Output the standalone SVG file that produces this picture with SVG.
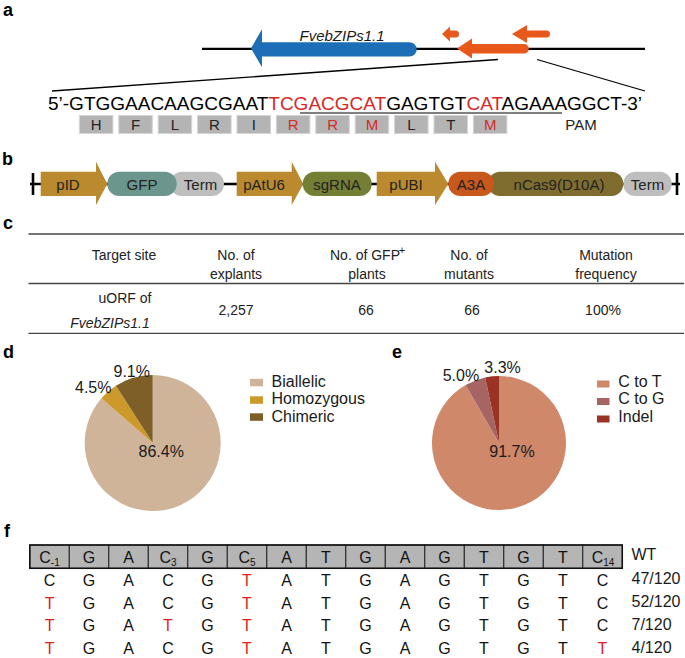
<svg xmlns="http://www.w3.org/2000/svg" width="685" height="658" viewBox="0 0 685 658">
<style>
text{font-family:'Liberation Sans',Arial,sans-serif;fill:#1a1a1a}
.lbl{font-size:18px;font-weight:bold;fill:#000}
.seq{font-size:19px;fill:#000}
.aa{font-size:15px;text-anchor:middle;fill:#222}
.red{fill:#d42a2a}
.aabox{fill:#b4b4b4;stroke:#d4d4d4;stroke-width:1}
.cb{font-size:15px;text-anchor:middle;fill:#222}
.tb{font-size:14px;text-anchor:middle;fill:#222}
.pct{font-size:16px;fill:#1a1a1a}
.leg{font-size:16px;fill:#1a1a1a}
.fc{font-size:16px;text-anchor:middle;fill:#111}
.fr{fill:#e0201b}
.sub{font-size:10px}
.cell{fill:#b5b5b5;stroke:#222;stroke-width:1}
</style>

<!-- panel labels -->
<text class="lbl" x="3" y="16">a</text>
<text class="lbl" x="2" y="165">b</text>
<text class="lbl" x="3" y="229">c</text>
<text class="lbl" x="3" y="358">d</text>
<text class="lbl" x="392" y="358">e</text>
<text class="lbl" x="4" y="537">f</text>

<!-- connectors -->
<g id="connectors" stroke="#000" fill="none">
  <line x1="202" y1="48.8" x2="645" y2="48.8" stroke-width="2.2"/>
  <line x1="498" y1="59.5" x2="52" y2="91" stroke-width="1.3"/>
  <line x1="537" y1="59.5" x2="645" y2="91" stroke-width="1.3"/>
  <line x1="300" y1="113" x2="562" y2="113" stroke="#555" stroke-width="1.6"/>
  <line x1="30" y1="184" x2="680" y2="184" stroke-width="2.6"/>
  <line x1="33" y1="173" x2="33" y2="195" stroke-width="2.6"/>
  <line x1="677" y1="173" x2="677" y2="195" stroke-width="2.6"/>
</g>

<!-- panel a -->
<g id="gene">
  <path d="M251,48.3 L262,29.3 L262,42.2 L409.5,42.2 A7.2,7.2 0 0 1 409.5,56.6 L262,56.6 L262,67.3 Z" fill="#1c6fb7"/>
  <text x="342" y="40.5" font-size="15" font-style="italic" text-anchor="middle" fill="#1a1a1a">FvebZIPs1.1</text>
</g>
<g id="orf-small">
  <path d="M442,34 L450,26.5 L450,30.5 L455.5,30.5 A3.5,3.5 0 0 1 455.5,37.5 L450,37.5 L450,41.5 Z" fill="#e8581b"/>
</g>
<g id="orf-top">
  <path d="M512,34 L527,25 L527,30.5 L546.5,30.5 A3.5,3.5 0 0 1 546.5,37.5 L527,37.5 L527,43 Z" fill="#e8581b"/>
</g>
<g id="orf-main">
  <path d="M457,48.5 L472,38.5 L472,44 L524,44 A4.8,4.8 0 0 1 524,53.6 L472,53.6 L472,58.5 Z" fill="#e8581b"/>
</g>
<g id="sequence">
  <text class="seq" x="48" y="110">5’-GTGGAACAAGCGAAT<tspan class="red">TCGACGCAT</tspan>GAGTGT<tspan class="red">CAT</tspan>AGAAAGGCT-3’</text>
</g>
<g id="codons">
  <rect class="aabox" x="79.4" y="115.5" width="33.5" height="18"/>
  <rect class="aabox" x="118.8" y="115.5" width="33.5" height="18"/>
  <rect class="aabox" x="158.2" y="115.5" width="33.5" height="18"/>
  <rect class="aabox" x="197.6" y="115.5" width="33.5" height="18"/>
  <rect class="aabox" x="237" y="115.5" width="33.5" height="18"/>
  <rect class="aabox" x="276.4" y="115.5" width="33.5" height="18"/>
  <rect class="aabox" x="315.8" y="115.5" width="33.5" height="18"/>
  <rect class="aabox" x="355.2" y="115.5" width="33.5" height="18"/>
  <rect class="aabox" x="394.6" y="115.5" width="33.5" height="18"/>
  <rect class="aabox" x="434" y="115.5" width="33.5" height="18"/>
  <rect class="aabox" x="473.4" y="115.5" width="33.5" height="18"/>
  <text class="aa" x="96.2" y="130">H</text>
  <text class="aa" x="135.6" y="130">F</text>
  <text class="aa" x="175" y="130">L</text>
  <text class="aa" x="214.4" y="130">R</text>
  <text class="aa" x="253.8" y="130">I</text>
  <text class="aa red" x="293.2" y="130">R</text>
  <text class="aa red" x="332.6" y="130">R</text>
  <text class="aa red" x="372" y="130">M</text>
  <text class="aa" x="411.4" y="130">L</text>
  <text class="aa" x="450.8" y="130">T</text>
  <text class="aa red" x="490.2" y="130">M</text>
</g>
<g id="pam"><text class="aa" x="581" y="130">PAM</text></g>

<!-- panel b -->
<g id="pID">
  <path d="M40.7,171.8 L96,171.8 L96,161.7 L107.3,184 L96,205 L96,196 L40.7,196 Z" fill="#bb8a2f"/>
  <text class="cb" x="68" y="189.5">pID</text>
</g>
<g id="Term1">
  <rect x="170" y="171.8" width="54" height="24.2" rx="12" fill="#bebebe"/>
  <text class="cb" x="200.5" y="189.5">Term</text>
</g>
<g id="GFP">
  <rect x="107.3" y="171.8" width="69.4" height="24.2" rx="12" fill="#6b968d"/>
  <text class="cb" x="142" y="189.5">GFP</text>
</g>
<g id="pAtU6">
  <path d="M236.7,171.8 L291.7,171.8 L291.7,161.7 L303.3,184 L291.7,205 L291.7,196 L236.7,196 Z" fill="#bb8a2f"/>
  <text class="cb" x="264" y="189.5">pAtU6</text>
</g>
<g id="sgRNA">
  <rect x="302.7" y="171.8" width="69" height="24.2" rx="12" fill="#747e35"/>
  <text class="cb" x="337" y="189.5">sgRNA</text>
</g>
<g id="pUBI">
  <path d="M376.7,171.8 L435,171.8 L435,161.7 L448.3,184 L435,205 L435,196 L376.7,196 Z" fill="#bb8a2f"/>
  <text class="cb" x="406" y="189.5">pUBI</text>
</g>
<g id="nCas9">
  <rect x="488" y="171.8" width="135.3" height="24.2" rx="12" fill="#7e6d2f"/>
  <text class="cb" x="559" y="189.5">nCas9(D10A)</text>
</g>
<g id="A3A">
  <rect x="448.3" y="171.8" width="45.7" height="24.2" rx="12" fill="#c9581c"/>
  <text class="cb" x="471" y="189.5">A3A</text>
</g>
<g id="Term2">
  <rect x="623.3" y="171.8" width="48.4" height="24.2" rx="12" fill="#bebebe"/>
  <text class="cb" x="647.5" y="189.5">Term</text>
</g>

<!-- panel c -->
<g id="table">
  <g stroke="#444" stroke-width="1.3">
    <line x1="28.5" y1="234" x2="684" y2="234"/>
    <line x1="28.5" y1="283.5" x2="684" y2="283.5"/>
    <line x1="28.5" y1="333.3" x2="684" y2="333.3"/>
  </g>
  <text class="tb" x="124" y="260">Target site</text>
  <text class="tb" x="236" y="260">No. of</text>
  <text class="tb" x="236" y="279">explants</text>
  <text class="tb" x="365" y="260">No. of GFP</text>
  <text x="402" y="254" font-size="11" text-anchor="middle" fill="#222">+</text>
  <text class="tb" x="367" y="279">plants</text>
  <text class="tb" x="469" y="260">No. of</text>
  <text class="tb" x="469" y="279">mutants</text>
  <text class="tb" x="606" y="260">Mutation</text>
  <text class="tb" x="606" y="279">frequency</text>
  <text class="tb" x="125" y="303">uORF of</text>
  <text class="tb" x="110" y="327.5" font-style="italic">FvebZIPs1.1</text>
  <text class="tb" x="236" y="315">2,257</text>
  <text class="tb" x="366" y="315">66</text>
  <text class="tb" x="472" y="315">66</text>
  <text class="tb" x="603" y="315">100%</text>
</g>

<!-- panel d -->
<g id="pie-d">
  <path d="M152.7,443 L152.7,375 A68,68 0 1 1 101.4,398.35 Z" fill="#d0b49a"/>
  <path d="M152.7,443 L101.4,398.35 A68,68 0 0 1 115.9,385.8 Z" fill="#cc9a2a"/>
  <path d="M152.7,443 L115.9,385.8 A68,68 0 0 1 152.7,375 Z" fill="#7e5f27"/>
  <text class="pct" x="113.5" y="376.5">9.1%</text>
  <text class="pct" x="75" y="392.5">4.5%</text>
  <text class="pct" x="138.5" y="456.5">86.4%</text>
</g>
<g id="legend-d">
  <rect x="250" y="378.8" width="13" height="7.5" fill="#d0b49a"/>
  <rect x="250" y="396.3" width="13" height="7.5" fill="#cc9a2a"/>
  <rect x="250" y="413.3" width="13" height="7.5" fill="#7e5f27"/>
  <text class="leg" x="271.5" y="386.7">Biallelic</text>
  <text class="leg" x="271.5" y="404.2">Homozygous</text>
  <text class="leg" x="271.5" y="421.5">Chimeric</text>
</g>

<!-- panel e -->
<g id="pie-e">
  <path d="M499,443 L499,376 A67,67 0 1 1 465.62,384.9 Z" fill="#d0886a"/>
  <path d="M499,443 L465.62,384.9 A67,67 0 0 1 485.2,377.4 Z" fill="#a66462"/>
  <path d="M499,443 L485.2,377.4 A67,67 0 0 1 499,376 Z" fill="#9b3325"/>
  <text class="pct" x="442.7" y="380.7">5.0%</text>
  <text class="pct" x="484.3" y="373.3">3.3%</text>
  <text class="pct" x="489.3" y="456.7">91.7%</text>
</g>
<g id="legend-e">
  <rect x="597" y="380.5" width="12.5" height="7" fill="#d0886a"/>
  <rect x="597" y="398" width="12.5" height="7" fill="#a66462"/>
  <rect x="597" y="415.5" width="12.5" height="7" fill="#9b3325"/>
  <text class="leg" x="618.3" y="386.7">C to T</text>
  <text class="leg" x="618.3" y="404">C to G</text>
  <text class="leg" x="618.3" y="421.7">Indel</text>
</g>

<!-- panel f -->
<g id="wt-row">
  <rect class="cell" x="29.8" y="545" width="39.5" height="23.3"/>
  <rect class="cell" x="69.3" y="545" width="39.5" height="23.3"/>
  <rect class="cell" x="108.8" y="545" width="39.5" height="23.3"/>
  <rect class="cell" x="148.3" y="545" width="39.5" height="23.3"/>
  <rect class="cell" x="187.8" y="545" width="39.5" height="23.3"/>
  <rect class="cell" x="227.3" y="545" width="39.5" height="23.3"/>
  <rect class="cell" x="266.8" y="545" width="39.5" height="23.3"/>
  <rect class="cell" x="306.3" y="545" width="39.5" height="23.3"/>
  <rect class="cell" x="345.8" y="545" width="39.5" height="23.3"/>
  <rect class="cell" x="385.3" y="545" width="39.5" height="23.3"/>
  <rect class="cell" x="424.8" y="545" width="39.5" height="23.3"/>
  <rect class="cell" x="464.3" y="545" width="39.5" height="23.3"/>
  <rect class="cell" x="503.8" y="545" width="39.5" height="23.3"/>
  <rect class="cell" x="543.3" y="545" width="39.5" height="23.3"/>
  <rect class="cell" x="582.8" y="545" width="39.5" height="23.3"/>
  <rect x="29.8" y="545" width="592.5" height="23.3" fill="none" stroke="#111" stroke-width="1.5"/>
  <text class="fc" x="49.5" y="563">C<tspan class="sub" dy="3">-1</tspan></text>
  <text class="fc" x="89" y="563">G</text>
  <text class="fc" x="128.5" y="563">A</text>
  <text class="fc" x="168" y="563">C<tspan class="sub" dy="3">3</tspan></text>
  <text class="fc" x="207.5" y="563">G</text>
  <text class="fc" x="247" y="563">C<tspan class="sub" dy="3">5</tspan></text>
  <text class="fc" x="286.5" y="563">A</text>
  <text class="fc" x="326" y="563">T</text>
  <text class="fc" x="365.5" y="563">G</text>
  <text class="fc" x="405" y="563">A</text>
  <text class="fc" x="444.5" y="563">G</text>
  <text class="fc" x="484" y="563">T</text>
  <text class="fc" x="523.5" y="563">G</text>
  <text class="fc" x="563" y="563">T</text>
  <text class="fc" x="603" y="563">C<tspan class="sub" dy="3">14</tspan></text>
  <text class="leg" x="631.5" y="560">WT</text>
</g>
<g id="row1">
  <text class="fc" x="49.6" y="586">C</text><text class="fc" x="89" y="586">G</text><text class="fc" x="128.5" y="586">A</text><text class="fc" x="168" y="586">C</text><text class="fc" x="207.5" y="586">G</text><text class="fc fr" x="247" y="586">T</text><text class="fc" x="286.5" y="586">A</text><text class="fc" x="326" y="586">T</text><text class="fc" x="365.5" y="586">G</text><text class="fc" x="405" y="586">A</text><text class="fc" x="444.5" y="586">G</text><text class="fc" x="484" y="586">T</text><text class="fc" x="523.5" y="586">G</text><text class="fc" x="563" y="586">T</text><text class="fc" x="602.5" y="586">C</text>
  <text class="leg" x="631.5" y="584">47/120</text>
</g>
<g id="row2">
  <text class="fc fr" x="49.6" y="608.5">T</text><text class="fc" x="89" y="608.5">G</text><text class="fc" x="128.5" y="608.5">A</text><text class="fc" x="168" y="608.5">C</text><text class="fc" x="207.5" y="608.5">G</text><text class="fc fr" x="247" y="608.5">T</text><text class="fc" x="286.5" y="608.5">A</text><text class="fc" x="326" y="608.5">T</text><text class="fc" x="365.5" y="608.5">G</text><text class="fc" x="405" y="608.5">A</text><text class="fc" x="444.5" y="608.5">G</text><text class="fc" x="484" y="608.5">T</text><text class="fc" x="523.5" y="608.5">G</text><text class="fc" x="563" y="608.5">T</text><text class="fc" x="602.5" y="608.5">C</text>
  <text class="leg" x="631.5" y="606.5">52/120</text>
</g>
<g id="row3">
  <text class="fc fr" x="49.6" y="631">T</text><text class="fc" x="89" y="631">G</text><text class="fc" x="128.5" y="631">A</text><text class="fc fr" x="168" y="631">T</text><text class="fc" x="207.5" y="631">G</text><text class="fc fr" x="247" y="631">T</text><text class="fc" x="286.5" y="631">A</text><text class="fc" x="326" y="631">T</text><text class="fc" x="365.5" y="631">G</text><text class="fc" x="405" y="631">A</text><text class="fc" x="444.5" y="631">G</text><text class="fc" x="484" y="631">T</text><text class="fc" x="523.5" y="631">G</text><text class="fc" x="563" y="631">T</text><text class="fc" x="602.5" y="631">C</text>
  <text class="leg" x="631.5" y="630">7/120</text>
</g>
<g id="row4">
  <text class="fc fr" x="49.6" y="653.5">T</text><text class="fc" x="89" y="653.5">G</text><text class="fc" x="128.5" y="653.5">A</text><text class="fc" x="168" y="653.5">C</text><text class="fc" x="207.5" y="653.5">G</text><text class="fc fr" x="247" y="653.5">T</text><text class="fc" x="286.5" y="653.5">A</text><text class="fc" x="326" y="653.5">T</text><text class="fc" x="365.5" y="653.5">G</text><text class="fc" x="405" y="653.5">A</text><text class="fc" x="444.5" y="653.5">G</text><text class="fc" x="484" y="653.5">T</text><text class="fc" x="523.5" y="653.5">G</text><text class="fc" x="563" y="653.5">T</text><text class="fc fr" x="602.5" y="653.5">T</text>
  <text class="leg" x="631.5" y="652.5">4/120</text>
</g>
</svg>
